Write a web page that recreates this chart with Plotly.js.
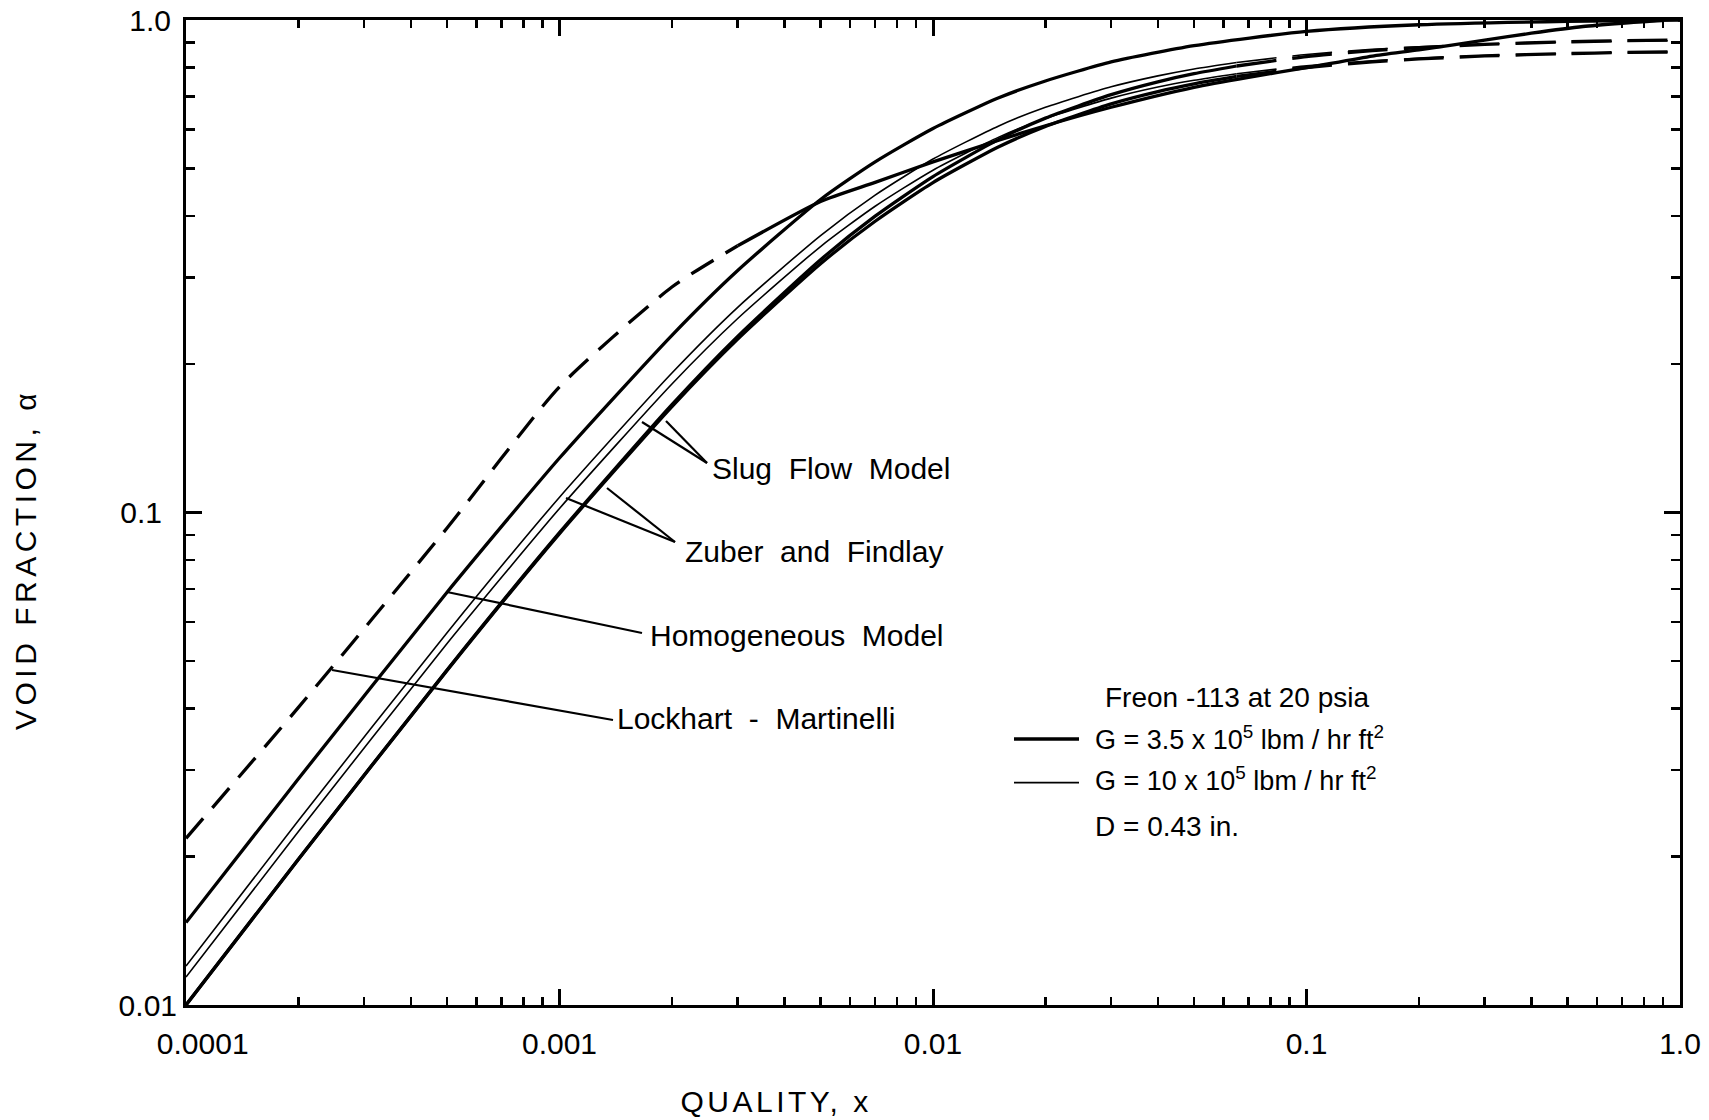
<!DOCTYPE html>
<html>
<head>
<meta charset="utf-8">
<script src="https://cdn.plot.ly/plotly-3.0.1.min.js"></script>
<style>
  html, body { margin: 0; padding: 0; background: #fff; }
  #chart { width: 1709px; height: 1120px; }
  .annotation[data-index="0"] text { letter-spacing: 4.5px; }
  .annotation[data-index="1"] text { letter-spacing: 3.5px; }
</style>
</head>
<body>
<div id="chart"></div>
<script>
// ---- data ----
// quality grid for the model curves (solid part, measured range)
const xSolid = [1e-4, 2e-4, 5e-4, 1e-3, 2e-3, 3e-3, 5e-3, 7e-3, 1e-2, 1.5e-2, 2e-2, 3e-2, 4e-2, 5e-2, 6.5e-2];
// extrapolated (dashed) part
const xDashEnd = [6.5e-2, 0.1, 0.15, 0.2, 0.3, 0.5, 0.7, 1.0];

// Zuber and Findlay, G = 10e5 (thin)
const zfThinSolid = [0.0120, 0.0237, 0.0570, 0.1074, 0.192, 0.261, 0.365, 0.441, 0.522, 0.6095, 0.665, 0.7317, 0.770, 0.7955, 0.820];
const zfThinDash  = [0.820, 0.851, 0.8715, 0.882, 0.893, 0.902, 0.9055, 0.908];
// Slug flow model, G = 10e5 (thin)
const slugThinSolid = [0.0114, 0.0225, 0.0542, 0.1019, 0.1824, 0.2477, 0.3468, 0.4186, 0.4955, 0.5783, 0.631, 0.694, 0.731, 0.7545, 0.778];
const slugThinDash  = [0.778, 0.807, 0.8265, 0.8365, 0.8467, 0.855, 0.8587, 0.8615];
// Zuber and Findlay, G = 3.5e5 (thick)
const zfThickSolid = [0.0100, 0.01977, 0.0479, 0.0910, 0.1656, 0.2279, 0.326, 0.3997, 0.481, 0.5723, 0.632, 0.7054, 0.749, 0.7779, 0.8065];
const zfThickDash  = [0.8065, 0.843, 0.8669, 0.879, 0.8924, 0.903, 0.9077, 0.911];
// Slug flow model, G = 3.5e5 (thick)
const slugThickSolid = [0.0100, 0.01977, 0.0478, 0.0906, 0.1641, 0.225, 0.320, 0.3903, 0.4676, 0.5528, 0.608, 0.6758, 0.7157, 0.7419, 0.768];
const slugThickDash  = [0.768, 0.8006, 0.8223, 0.8336, 0.8452, 0.8547, 0.8589, 0.8615];

// Homogeneous model
const xHom = [1e-4, 2e-4, 5e-4, 1e-3, 2e-3, 3e-3, 5e-3, 7e-3, 1e-2, 1.5e-2, 2e-2, 3e-2, 5e-2, 0.1, 0.2, 0.5, 1.0];
const homAlpha = [0.0147, 0.0288, 0.0689, 0.129, 0.229, 0.310, 0.432, 0.515, 0.602, 0.695, 0.752, 0.822, 0.887, 0.948, 0.978, 0.994, 1.0];

// Lockhart-Martinelli
const xLMlow = [1e-4, 2e-4, 5e-4, 1e-3, 2e-3, 3e-3];
const lmLow  = [0.0218, 0.0402, 0.093, 0.180, 0.287, 0.348];
const xLMmid = [3e-3, 5e-3, 7e-3, 1e-2, 1.5e-2, 2e-2, 3e-2, 5e-2, 7e-2, 0.1, 0.15, 0.2, 0.3, 0.4, 0.55, 0.7];
const lmMid  = [0.348, 0.428, 0.468, 0.515, 0.57, 0.61, 0.665, 0.73, 0.765, 0.80, 0.845, 0.87, 0.91, 0.94, 0.97, 0.985];
const xLMhigh = [0.7, 0.85, 1.0];
const lmHigh  = [0.985, 0.995, 1.0];

// axis ticks
const xTickVals = [1e-4, 1e-3, 1e-2, 1e-1, 1];
const xTickText = ['\u2007\u20070.0001', '0.001', '0.01', '0.1', '1.0'];
const yTickVals = [0.01, 0.1, 1];
const yTickText = ['0.01', '0.1\u2002', '1.0\u2009'];
const minorMult = [2, 3, 4, 5, 6, 7, 8, 9];

// ---- styling ----
const FONT = 'Liberation Sans, Arial, sans-serif';
const THICK = 3.3, THIN = 1.6;
const longDash = '40px,16px';

function tr(x, y, w, dash) {
  return { x: x, y: y, type: 'scatter', mode: 'lines',
    line: { color: '#000', width: w, dash: dash || 'solid', shape: 'spline', smoothing: 0.6 },
    hoverinfo: 'skip', showlegend: false };
}

const traces = [
  tr(xLMlow, lmLow, THICK, '26px,14px'),
  tr(xLMmid, lmMid, THICK),
  tr(xLMhigh, lmHigh, THICK, longDash),
  tr(xHom, homAlpha, THICK),
  tr(xSolid, zfThickSolid, THICK),
  tr(xSolid, slugThickSolid, THICK),
  tr(xDashEnd, zfThickDash, THICK, longDash),
  tr(xDashEnd, slugThickDash, THICK, longDash),
  tr(xSolid, zfThinSolid, THIN),
  tr(xSolid, slugThinSolid, THIN),
  tr(xDashEnd, zfThinDash, THIN, longDash),
  tr(xDashEnd, slugThinDash, THIN, longDash)
];

function minorVals(lo, hi) {
  const v = [];
  for (let e = lo; e < hi; e++) minorMult.forEach(m => v.push(m * Math.pow(10, e)));
  return v;
}

const axisCommon = {
  type: 'log', showgrid: false, zeroline: false,
  showline: true, linecolor: '#000', linewidth: 3, mirror: 'allticks',
  ticks: 'inside', ticklen: 16, tickwidth: 3, tickcolor: '#000',
  tickmode: 'array',
  tickfont: { family: FONT, size: 30, color: '#000' }
};

// paper-coordinate helpers for annotation placement (plot area 186..1680 x 20..1005)
const L = 186, R = 1680, T = 20, B = 1005;
const px = v => (v - L) / (R - L);
const py = v => (B - v) / (B - T);

function seg(x0, y0, x1, y1, w) {
  return { type: 'line', xref: 'paper', yref: 'paper', x0: px(x0), y0: py(y0), x1: px(x1), y1: py(y1),
    line: { color: '#000', width: w } };
}
function label(text, x, y, size, extra) {
  return Object.assign({ text: text, xref: 'paper', yref: 'paper', x: px(x), y: py(y),
    xanchor: 'left', yanchor: 'middle', showarrow: false,
    font: { family: FONT, size: size, color: '#000' } }, extra || {});
}

const annotations = [
  label('VOID FRACTION, α', 25, 560, 30, { xanchor: 'center', textangle: -90 }),
  label('QUALITY, x', 776, 1101, 30, { xanchor: 'center' }),
  label('Slug\u00a0 Flow\u00a0 Model', 710, 469, 30),
  label('Zuber\u00a0 and\u00a0 Findlay', 683, 551, 30),
  label('Homogeneous\u00a0 Model', 648, 635, 30),
  label('Lockhart\u00a0 -\u00a0 Martinelli', 615, 718, 30),
  label('Freon -113 at 20 psia', 1103, 697, 28),
  label('G = 3.5 x 10<sup>5</sup> lbm / hr ft<sup>2</sup>', 1093, 738, 27),
  label('G = 10 x 10<sup>5</sup> lbm / hr ft<sup>2</sup>', 1093, 779, 27),
  label('D = 0.43 in.', 1093, 826, 28)
];

const shapes = [
  // leader lines
  seg(707, 463, 642, 422, 2.2), seg(707, 463, 666, 421, 2.2),
  seg(675, 542, 566, 498, 2.2), seg(675, 542, 607, 488, 2.2),
  seg(642, 633, 447, 592, 2.2),
  seg(613, 720, 332, 670, 2.2),
  // legend keys
  seg(1014, 739, 1079, 739, THICK),
  seg(1014, 782.6, 1079, 782.6, THIN)
];

const layout = {
  width: 1709, height: 1120,
  margin: { l: L, r: 1709 - R, t: T, b: 1120 - B, pad: 0 },
  paper_bgcolor: '#fff', plot_bgcolor: '#fff',
  showlegend: false,
  font: { family: FONT, size: 28, color: '#000' },
  xaxis: Object.assign({}, axisCommon, {
    range: [-4, 0], tickvals: xTickVals, ticktext: xTickText, ticklabelstandoff: 10,
    minor: { tickmode: 'array', tickvals: minorVals(-4, 0), ticks: 'inside', ticklen: 8, tickwidth: 2.5, tickcolor: '#000', showgrid: false }
  }),
  yaxis: Object.assign({}, axisCommon, {
    range: [-2, 0], tickvals: yTickVals, ticktext: yTickText, ticklabelstandoff: 0,
    minor: { tickmode: 'array', tickvals: minorVals(-2, 0), ticks: 'inside', ticklen: 9, tickwidth: 2.5, tickcolor: '#000', showgrid: false }
  }),
  annotations: annotations,
  shapes: shapes
};

Plotly.newPlot('chart', traces, layout, { staticPlot: true, displayModeBar: false });
</script>
</body>
</html>
